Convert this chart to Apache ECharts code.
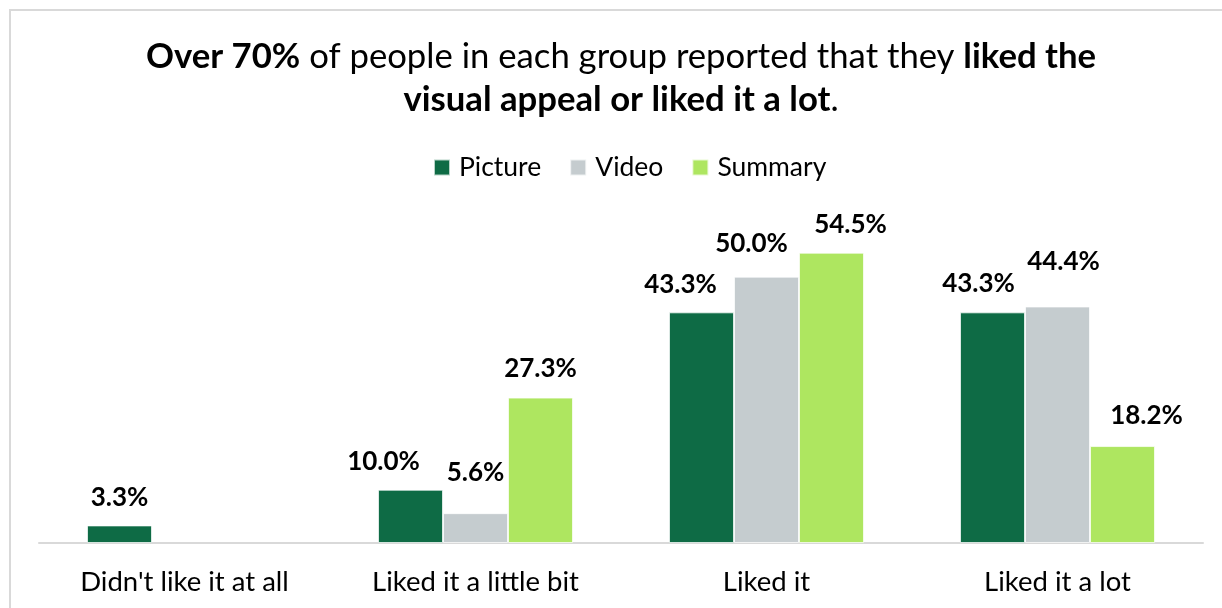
<!DOCTYPE html>
<html>
<head>
<meta charset="utf-8">
<title>Visual appeal ratings</title>
<script src="https://cdn.jsdelivr.net/npm/echarts@6/dist/echarts.min.js"></script>
<style>
  html, body { margin: 0; padding: 0; background: #fff; }
  #chart { width: 1222px; height: 608px; }
</style>
</head>
<body>
<div id="chart"></div>
<script>
// Survey responses: share of each group by rating (percent)
const categories = ["Didn't like it at all", 'Liked it a little bit', 'Liked it', 'Liked it a lot'];
const seriesNames = ['Picture', 'Video', 'Summary'];
const pictureValues = [3.3, 10.0, 43.3, 43.3];
const videoValues = [null, 5.6, 50.0, 44.4];
const summaryValues = [null, 27.3, 54.5, 18.2];

// Layout: small nudges [dx, dy] so neighbouring value labels don't collide
const labelNudges = [
  [[0, 0], [-27, 0], [-21, 0], [-14, -1]],
  [[0, 0], [0, -13], [-15, -5], [6, -17]],
  [[0, 0], [0, -1], [19, 0], [24, -2]]
];
const colors = ['#0e6b45', '#c5cccf', '#aee660'];
const FONT = 'Lato, "Open Sans", sans-serif';

const valueSets = [pictureValues, videoValues, summaryValues];

function buildSeries(idx) {
  return {
    name: seriesNames[idx],
    type: 'bar',
    barGap: '0%',
    barCategoryGap: '33%',
    itemStyle: { color: colors[idx], borderColor: 'rgba(255,255,255,0.7)', borderWidth: 1 },
    data: valueSets[idx].map((v, i) => ({
      value: v,
      label: { offset: labelNudges[idx][i] }
    })),
    label: {
      show: true,
      position: 'top',
      distance: 15,
      fontFamily: FONT,
      fontSize: 26,
      lineHeight: 26,
      fontWeight: 'bold',
      color: '#000',
      formatter: p => (p.value == null ? '' : p.value.toFixed(1) + '%')
    },
    emphasis: { disabled: true }
  };
}

const chart = echarts.init(document.getElementById('chart'), null, { renderer: 'canvas' });
chart.setOption({
  animation: false,
  backgroundColor: '#fff',
  graphic: [{
    type: 'rect',
    shape: { x: 10, y: 10, width: 1400, height: 800 },
    style: { fill: 'none', stroke: '#d9d9d9', lineWidth: 2 },
    silent: true,
    z: -1
  }],
  title: {
    text: '{b|Over 70%} of people in each group reported that they {b|liked the}\n{b|visual appeal or liked it a lot}.',
    left: 621,
    textAlign: 'center',
    top: 35,
    padding: 0,
    textStyle: {
      fontFamily: FONT,
      fontSize: 34.7,
      fontWeight: 'normal',
      lineHeight: 43,
      color: '#000',
      rich: {
        b: { fontFamily: FONT, fontSize: 34.7, fontWeight: 'bold', lineHeight: 43, color: '#000' }
      }
    }
  },
  legend: {
    data: seriesNames,
    left: 433,
    top: 154,
    padding: 0,
    itemWidth: 16,
    itemHeight: 16,
    itemGap: 28,
    icon: 'rect',
    textStyle: { fontFamily: FONT, fontSize: 26.5, color: '#000', padding: [0, 0, 0, 4] }
  },
  grid: { left: 39, right: 19, top: 223.4, bottom: 65, containLabel: false },
  xAxis: {
    type: 'category',
    data: categories,
    axisLine: { show: true, lineStyle: { color: '#d9d9d9', width: 2 } },
    axisTick: { show: false },
    axisLabel: { fontFamily: FONT, fontSize: 27.5, color: '#000', margin: 25, lineHeight: 28, interval: 0 }
  },
  yAxis: {
    type: 'value',
    min: 0,
    max: 60,
    interval: 10,
    show: false,
    splitLine: { show: false }
  },
  series: [buildSeries(0), buildSeries(1), buildSeries(2)]
});
</script>
</body>
</html>
